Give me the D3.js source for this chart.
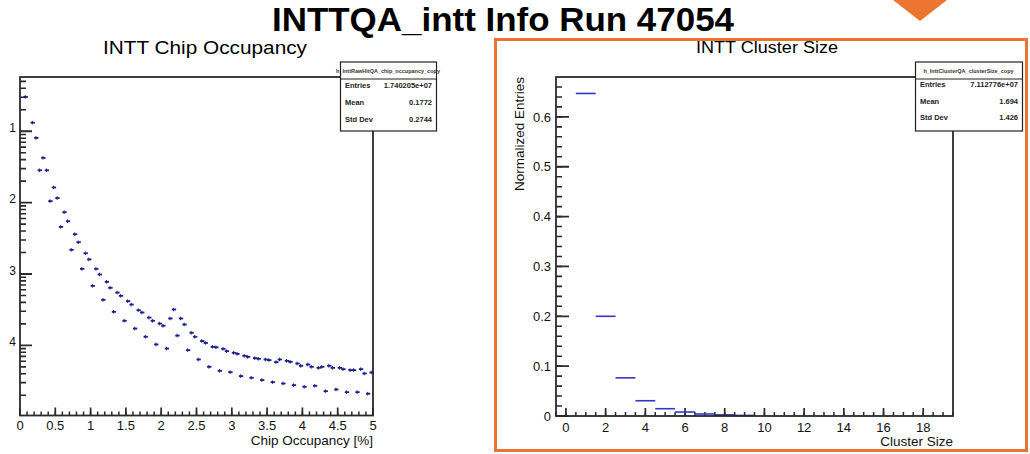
<!DOCTYPE html>
<html><head><meta charset="utf-8">
<script src="https://cdn.jsdelivr.net/npm/d3@7"></script>
<style>
body{margin:0;background:#fff;}
svg{display:block;font-family:"Liberation Sans",Arial,Helvetica,sans-serif;}
</style>
</head><body>
<svg id="c" width="1030" height="454"></svg>
<script>
// ---- chip occupancy histogram (bins of 0.05 %, starting at 0) ----
const occBinStart = 0;
const occBinWidth = 0.05;
const occupancyValues = [
  null, 0.303, null, 0.132, 0.0807, 0.0284, 0.0424, 0.0284, 0.0105, 0.0163,
  0.0116, 0.00457, 0.00734, 0.00548, 0.00218, 0.00361, 0.00279, 0.00118, 0.00195, 0.00160,
  0.000682, 0.00118, 0.000984, 0.000434, 0.000776, 0.000640, 0.000295, 0.000549, 0.000494, 0.000221,
  0.000416, 0.000373, 0.000172, 0.000311, 0.000289, 0.000132, 0.000245, 0.000221, 0.000103, 0.000202,
  0.000188, 0.0000903, 0.000238, 0.000318, 0.000137, 0.000238, 0.000196, 0.0000857, 0.000150, 0.000132,
  0.0000634, 0.000115, 0.000108, 0.0000500, 0.0000953, 0.0000940, 0.0000440, 0.0000893, 0.0000829, 0.0000421,
  0.0000786, 0.0000760, 0.0000371, 0.0000713, 0.0000690, 0.0000351, 0.0000662, 0.0000648, 0.0000326, 0.0000634,
  0.0000621, 0.0000305, 0.0000582, 0.0000634, 0.0000292, 0.0000607, 0.0000588, 0.0000277, 0.0000557, 0.0000517,
  0.0000263, 0.0000539, 0.0000500, 0.0000271, 0.0000484, 0.0000500, 0.0000228, 0.0000517, 0.0000484, 0.0000241,
  0.0000484, 0.0000464, 0.0000221, 0.0000450, 0.0000450, 0.0000221, 0.0000464, 0.0000404, 0.0000210, 0.0000417
];
const occXDomain = [0, 5];
const occYDomain = [1.04e-5, 0.576];
const occXTicks = [0, 0.5, 1, 1.5, 2, 2.5, 3, 3.5, 4, 4.5, 5];
const occYDecades = [1e-1, 1e-2, 1e-3, 1e-4];
const occYLabels = ["1", "2", "3", "4"];
const occStatsTitle = "h_InttRawHitQA_chip_occupancy_copy";
const occStats = [["Entries", "1.740205e+07"], ["Mean", "0.1772"], ["Std Dev", "0.2744"]];

// ---- cluster size histogram (normalized) ----
const clusterSizes = [1, 2, 3, 4, 5, 6, 7, 8, 9];
const clusterFractions = [0.647, 0.200, 0.0766, 0.0306, 0.0146, 0.008, 0.004, 0.002, 0.001];
const sizeXDomain = [-0.5, 19.5];
const sizeYDomain = [0, 0.68];
const sizeXTicks = [0, 2, 4, 6, 8, 10, 12, 14, 16, 18];
const fracYTicks = [0, 0.1, 0.2, 0.3, 0.4, 0.5, 0.6];
const sizeStatsTitle = "h_InttClusterQA_clusterSize_copy";
const sizeStats = [["Entries", "7.112776e+07"], ["Mean", "1.694"], ["Std Dev", "1.426"]];

const svg = d3.select("#c");
const frameColor = "#2a2a2a";
const orange = "#ea7430";
const labelFont = "Liberation Sans, Arial, sans-serif";

// page title and highlight marker
svg.append("text").attr("x", 503).attr("y", 31).attr("text-anchor", "middle")
  .attr("font-size", 34).attr("font-weight", "bold").attr("fill", "#000")
  .attr("textLength", 462).attr("lengthAdjust", "spacingAndGlyphs")
  .text("INTTQA_intt Info Run 47054");
svg.append("path").attr("d", "M893,0 L947,0 L920,21 Z").attr("fill", orange);
svg.append("rect").attr("x", 495.5).attr("y", 39.5).attr("width", 531).attr("height", 411)
  .attr("fill", "none").attr("stroke", orange).attr("stroke-width", 3);

// tick marks pointing into the frame, built as one path per tick set
function vTicks(scale, values, x0, len, w) {
  const d = values.map(v => `M${x0},${scale(v).toFixed(2)}h${len}`).join("");
  svg.append("path").attr("d", d).attr("fill", "none")
    .attr("stroke", frameColor).attr("stroke-width", w);
}
function hTicks(scale, values, y0, len, w) {
  const d = values.map(v => `M${scale(v).toFixed(2)},${y0}v${-len}`).join("");
  svg.append("path").attr("d", d).attr("fill", "none")
    .attr("stroke", frameColor).attr("stroke-width", w);
}
function xLabels(scale, values, y, fmt) {
  svg.append("g").selectAll("text").data(values).join("text")
    .attr("x", d => scale(d)).attr("y", y).attr("text-anchor", "middle")
    .attr("font-size", 13).attr("fill", "#111").attr("font-family", labelFont).text(fmt);
}

function statsBox(x, y, w, title, rows, rowY) {
  const g = svg.append("g");
  g.append("rect").attr("x", x + 0.5).attr("y", y + 0.5).attr("width", w).attr("height", 69)
    .attr("fill", "#fff").attr("stroke", "#222").attr("stroke-width", 1.2);
  g.append("line").attr("x1", x).attr("x2", x + w).attr("y1", y + 17.5).attr("y2", y + 17.5)
    .attr("stroke", "#222").attr("stroke-width", 1.2);
  g.append("text").attr("x", x + w / 2).attr("y", y + 11).attr("text-anchor", "middle")
    .attr("font-size", 5.5).attr("font-weight", "bold").attr("fill", "#333").text(title);
  rows.forEach((r, i) => {
    g.append("text").attr("x", x + 5).attr("y", y + rowY[i]).attr("font-size", 7.5)
      .attr("font-weight", "bold").attr("fill", "#222").text(r[0]);
    g.append("text").attr("x", x + w - 4).attr("y", y + rowY[i]).attr("text-anchor", "end")
      .attr("font-size", 7.5).attr("font-weight", "bold").attr("fill", "#222").text(r[1]);
  });
}

// ================= left pad: chip occupancy =================
{
  const L = 20, R = 373, T = 77, B = 415.5;
  const x = d3.scaleLinear().domain(occXDomain).range([L, R]);
  const y = d3.scaleLog().domain(occYDomain).range([B, T]);

  svg.append("text").attr("x", 205).attr("y", 54).attr("text-anchor", "middle")
    .attr("font-size", 19).attr("textLength", 204).attr("lengthAdjust", "spacingAndGlyphs")
    .text("INTT Chip Occupancy");

  // log-axis ticks
  const minor = [];
  [-5, -4, -3, -2, -1].forEach(p => {
    for (let k = 2; k <= 9; k++) {
      const v = k * Math.pow(10, p);
      if (v >= occYDomain[0] && v <= occYDomain[1]) minor.push(v);
    }
  });
  vTicks(y, minor, L, 6, 1.6);
  vTicks(y, occYDecades, L, 12, 1.8);
  svg.append("g").selectAll("text").data(occYDecades).join("text")
    .attr("x", 16).attr("y", d => y(d)).attr("dy", "0.05em").attr("text-anchor", "end")
    .attr("font-size", 12).attr("fill", "#111").attr("font-family", labelFont)
    .text((d, i) => occYLabels[i]);

  hTicks(x, d3.range(0, 51).map(i => i / 10), B, 4, 1.5);
  hTicks(x, occXTicks, B, 8, 1.7);
  xLabels(x, occXTicks, 430, d3.format("~g"));

  svg.append("rect").attr("x", L).attr("y", T).attr("width", R - L).attr("height", B - T)
    .attr("fill", "none").attr("stroke", frameColor).attr("stroke-width", 1.8);

  svg.append("text").attr("x", R).attr("y", 445).attr("text-anchor", "end")
    .attr("font-size", 13.5).attr("fill", "#111").text("Chip Occupancy [%]");

  // data points with bin-width horizontal bars
  const pts = occupancyValues.map((v, i) => ({
    lo: occBinStart + i * occBinWidth, hi: occBinStart + (i + 1) * occBinWidth, v
  })).filter(d => d.v !== null);
  const pg = svg.append("g").attr("stroke", "#1d1d8e");
  pg.selectAll("line.h").data(pts).join("line").attr("class", "h")
    .attr("x1", d => x(d.lo)).attr("x2", d => x(d.hi) + 0.8)
    .attr("y1", d => y(d.v)).attr("y2", d => y(d.v)).attr("stroke-width", 1.8);
  pg.selectAll("line.v").data(pts).join("line").attr("class", "v")
    .attr("x1", d => x((d.lo + d.hi) / 2)).attr("x2", d => x((d.lo + d.hi) / 2))
    .attr("y1", d => y(d.v) - 1.8).attr("y2", d => y(d.v) + 1.8).attr("stroke-width", 1);

  statsBox(340, 61.5, 96, occStatsTitle, occStats, [26, 43.5, 60]);
}

// ================= right pad: cluster size =================
{
  const L = 556, R = 953, T = 77, B = 416;
  const x = d3.scaleLinear().domain(sizeXDomain).range([L, R]);
  const y = d3.scaleLinear().domain(sizeYDomain).range([B, T]);

  svg.append("text").attr("x", 767).attr("y", 53).attr("text-anchor", "middle")
    .attr("font-size", 16).attr("textLength", 142).attr("lengthAdjust", "spacingAndGlyphs")
    .text("INTT Cluster Size");

  vTicks(y, d3.range(0, 34).map(i => i * 0.02), L, 6, 1.6);
  vTicks(y, fracYTicks, L, 13, 1.8);
  svg.append("g").selectAll("text").data(fracYTicks).join("text")
    .attr("x", 551).attr("y", d => y(d)).attr("dy", "0.36em").attr("text-anchor", "end")
    .attr("font-size", 13).attr("fill", "#111").attr("font-family", labelFont)
    .text(d3.format("~g"));

  hTicks(x, d3.range(0, 41).map(i => -0.5 + i * 0.5), B, 4, 1.5);
  hTicks(x, sizeXTicks, B, 8, 1.7);
  xLabels(x, sizeXTicks, 432, d3.format("~g"));

  // bars drawn as horizontal histogram steps
  svg.append("g").selectAll("line").data(clusterSizes).join("line")
    .attr("x1", d => x(d - 0.5)).attr("x2", d => x(d + 0.5))
    .attr("y1", (d, i) => y(clusterFractions[i])).attr("y2", (d, i) => y(clusterFractions[i]))
    .attr("stroke", (d, i) => clusterFractions[i] < 0.003 ? "#1a1a7a" : "#3636cc")
    .attr("stroke-width", 1.6);

  svg.append("rect").attr("x", L).attr("y", T).attr("width", R - L).attr("height", B - T)
    .attr("fill", "none").attr("stroke", frameColor).attr("stroke-width", 1.8);

  svg.append("text").attr("x", R).attr("y", 446).attr("text-anchor", "end")
    .attr("font-size", 13.5).attr("fill", "#111").text("Cluster Size");
  svg.append("text").attr("transform", `translate(524,${T}) rotate(-90)`)
    .attr("text-anchor", "end").attr("font-size", 13.5).attr("fill", "#111")
    .text("Normalized Entries");

  statsBox(915, 61.5, 107, sizeStatsTitle, sizeStats, [25, 42, 58]);
}
</script>
</body></html>
